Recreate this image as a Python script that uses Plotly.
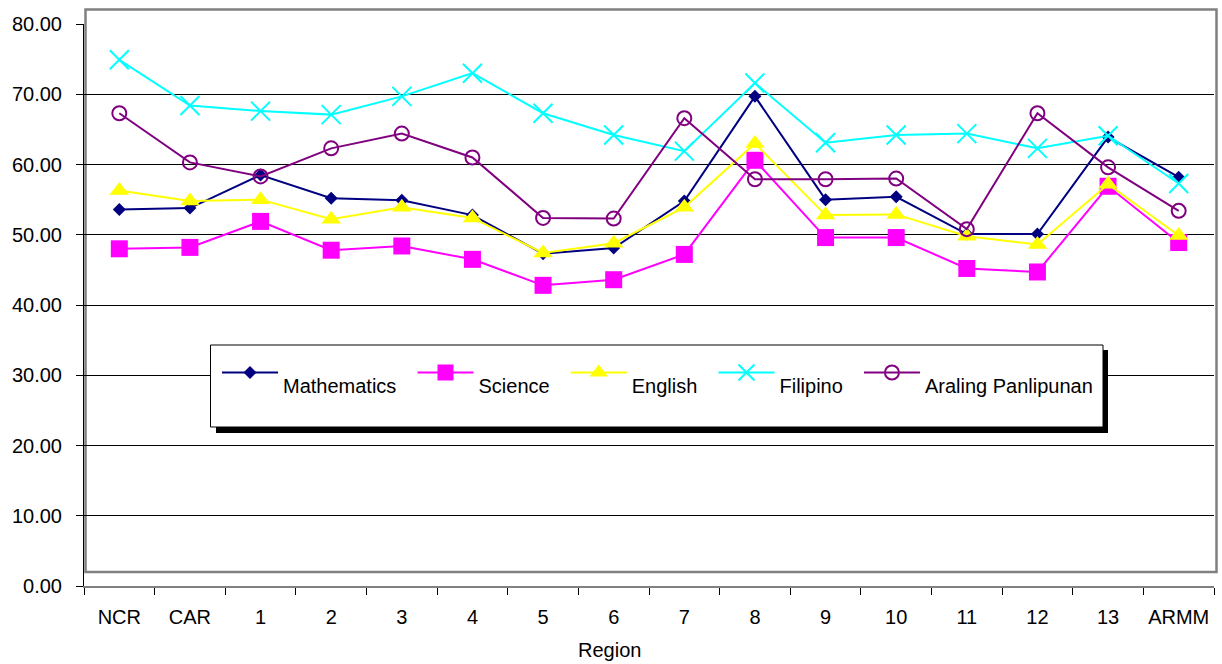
import plotly.graph_objects as go

categories = ["NCR", "CAR", "1", "2", "3", "4", "5", "6", "7", "8", "9", "10", "11", "12", "13", "ARMM"]
mathematics = [53.6, 53.8, 58.5, 55.2, 54.9, 52.8, 47.3, 48.1, 54.8, 69.7, 55.0, 55.4, 50.1, 50.1, 63.9, 58.2]
science = [48.0, 48.2, 51.9, 47.8, 48.4, 46.5, 42.8, 43.6, 47.2, 60.6, 49.6, 49.6, 45.2, 44.7, 56.9, 48.9]
english = [56.3, 54.8, 55.0, 52.2, 53.9, 52.4, 47.4, 48.8, 53.9, 63.0, 52.8, 52.9, 49.8, 48.6, 57.2, 49.9]
filipino = [74.9, 68.4, 67.6, 67.1, 69.7, 73.0, 67.3, 64.2, 61.9, 71.6, 63.1, 64.2, 64.4, 62.3, 64.1, 57.3]
araling = [67.3, 60.3, 58.3, 62.3, 64.4, 61.0, 52.4, 52.3, 66.6, 57.9, 57.9, 58.0, 50.8, 67.3, 59.6, 53.4]
y_ticks = [0, 10, 20, 30, 40, 50, 60, 70, 80]

FONT = "Arial, Liberation Sans, sans-serif"
NB = "\u00a0"

series = [
    ("Mathematics", 2, mathematics, "#000080", dict(symbol="diamond", size=10, color="#000080")),
    ("Science", 2, science, "#FF00FF", dict(symbol="square", size=17, color="#FF00FF")),
    ("English", 2, english, "#FFFF00", dict(symbol="triangle-up", size=17, color="#FFFF00")),
    ("Filipino", 2, filipino, "#00FFFF", dict(symbol="x-thin", size=19, color="#00FFFF",
                                              line=dict(color="#00FFFF", width=2))),
    ("Araling Panlipunan", 0, araling, "#800080", dict(symbol="circle-open", size=14, color="#800080",
                                                       line=dict(color="#800080", width=2))),
]

fig = go.Figure()
for name, pad, vals, col, mk in series:
    fig.add_trace(go.Scatter(
        x=categories, y=vals, name="<br>" + name + NB * pad, mode="lines+markers",
        line=dict(color=col, width=2), marker=mk,
    ))

W, H = 1222, 664
ml, mr, mt, mb = 84, 8, 24, 78
pw, ph = W - ml - mr, H - mt - mb


def px_x(x):
    return (x - ml) / pw


def px_y(y):
    return (H - mb - y) / ph


shapes = [
    # Excel-style grey plot-area frame
    dict(type="rect", xref="paper", yref="paper", layer="below",
         x0=px_x(85.5), x1=px_x(1216.5), y0=px_y(572), y1=px_y(9.5),
         line=dict(color="#808080", width=2.5), fillcolor="rgba(0,0,0,0)"),
    # legend shadow
    dict(type="rect", xref="paper", yref="paper", layer="above",
         x0=px_x(216), x1=px_x(1108), y0=px_y(433), y1=px_y(350),
         line=dict(width=0), fillcolor="#000000"),
    # legend box
    dict(type="rect", xref="paper", yref="paper", layer="above",
         x0=px_x(210.5), x1=px_x(1103), y0=px_y(427), y1=px_y(345),
         line=dict(color="#000000", width=1), fillcolor="#FFFFFF"),
]

fig.update_layout(
    width=W, height=H,
    margin=dict(l=ml, r=mr, t=mt, b=mb, autoexpand=False),
    paper_bgcolor="white", plot_bgcolor="white",
    font=dict(family=FONT, size=20, color="#000000"),
    showlegend=True,
    legend=dict(
        orientation="h", x=px_x(217), y=px_y(340), xanchor="left", yanchor="top",
        bgcolor="rgba(0,0,0,0)", borderwidth=0, valign="middle",
        itemwidth=56, font=dict(family=FONT, size=20),
    ),
    shapes=shapes,
    xaxis=dict(
        type="category", categoryorder="array", categoryarray=categories,
        range=[-0.5, len(categories) - 0.5], automargin=False,
        showgrid=False, zeroline=False,
        showline=True, linecolor="#808080", linewidth=1.5,
        ticks="outside", tickson="boundaries", ticklen=7, tickcolor="#000000",
        ticklabelstandoff=12,
        tickfont=dict(family=FONT, size=20),
    ),
    yaxis=dict(
        range=[0, 80], tickvals=y_ticks, ticktext=["%.2f" % v for v in y_ticks],
        automargin=False,
        showgrid=True, gridcolor="#000000", gridwidth=1,
        zeroline=False, showline=True, linecolor="#000000", linewidth=1,
        ticks="outside", ticklen=7, tickcolor="#000000",
        ticklabelstandoff=10,
        tickfont=dict(family=FONT, size=20),
    ),
    annotations=[
        dict(text="Region", xref="paper", yref="paper", x=px_x(609), y=px_y(650),
             xanchor="center", yanchor="middle", showarrow=False,
             font=dict(family=FONT, size=20)),
    ],
)

fig.write_html("out.html", config={"displayModeBar": False},
               post_script="document.body.style.margin='0px';")
